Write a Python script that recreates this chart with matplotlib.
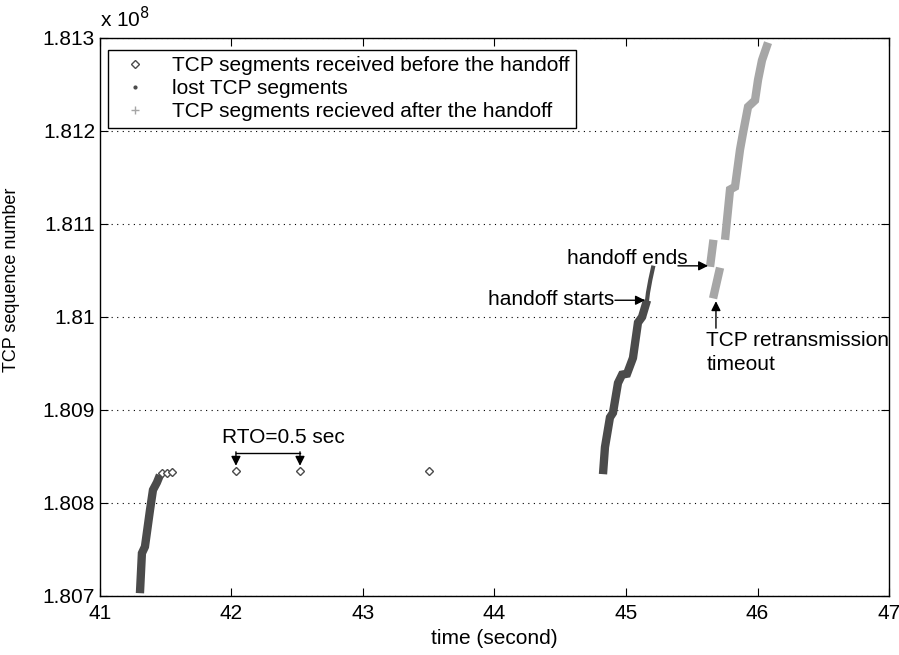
"""
TCP sequence numbers around a handoff: segments received before,
segments lost, and segments received after the handoff.
"""

import matplotlib.pyplot as plt
from matplotlib.lines import Line2D
from matplotlib.ticker import FuncFormatter

plt.rcParams.update({
    "font.family": ["Liberation Sans", "DejaVu Sans"],
    "font.size": 15,
    "axes.linewidth": 1.0,
})

DARK = "#4b4b4b"
LIGHT = "#a6a6a6"

# sequence numbers are in units of 1e8
# first run received before the handoff (dense, reads as a band)
run1_t = [41.304, 41.319, 41.342, 41.380, 41.403, 41.433, 41.456]
run1_seq = [1.80703, 1.80746, 1.80753, 1.80792, 1.80814, 1.80822, 1.80830]

# isolated segments received before the handoff
single_t = [41.47, 41.51, 41.55, 42.034, 42.521, 43.502]
single_seq = [1.80832, 1.80832, 1.80833, 1.80834, 1.80834, 1.80834]

# second run received before the handoff
run2_t = [44.825, 44.840, 44.878, 44.901, 44.939, 44.970, 45.008,
          45.053, 45.091, 45.122, 45.160]
run2_seq = [1.80831, 1.80860, 1.80892, 1.80897, 1.80929, 1.80938, 1.80939,
            1.80956, 1.80994, 1.81000, 1.81018]

# lost segments
lost_t = [45.160, 45.167, 45.185, 45.205]
lost_seq = [1.81018, 1.81026, 1.81040, 1.81053]

# received after the handoff
retx_t = [45.662, 45.715]
retx_seq = [1.81020, 1.81053]
after1_t = [45.639, 45.665]
after1_seq = [1.81054, 1.81083]
after2_t = [45.753, 45.791, 45.829, 45.867, 45.890, 45.928, 45.981,
            46.004, 46.034, 46.080]
after2_seq = [1.81083, 1.81137, 1.81140, 1.81180, 1.81198, 1.81226,
              1.81233, 1.81255, 1.81276, 1.81295]

fig = plt.figure(figsize=(8.99, 6.55), dpi=100)
ax = fig.add_axes([0.1112, 0.0901, 0.8777, 0.8519])

band = dict(linewidth=6, solid_capstyle="butt", solid_joinstyle="miter")
ax.plot(run1_t, run1_seq, color=DARK, **band)
ax.plot(run2_t, run2_seq, color=DARK, **band)
ax.plot(lost_t, lost_seq, color=DARK, linewidth=3)
for t, s in [(retx_t, retx_seq), (after1_t, after1_seq), (after2_t, after2_seq)]:
    ax.plot(t, s, color=LIGHT, **band)
ax.plot(single_t, single_seq, linestyle="none", marker="D", markersize=4.5,
        markerfacecolor="white", markeredgecolor=DARK, markeredgewidth=1)

# annotations
arrow = dict(arrowstyle="-|>", color="black", lw=1, mutation_scale=14,
             shrinkA=0, shrinkB=0)
for x in (single_t[3], single_t[4]):
    ax.annotate("", xy=(x, 1.80840), xytext=(x, 1.80855), arrowprops=arrow)
ax.plot([single_t[3], single_t[4]], [1.80854, 1.80854], color="black", lw=1)
ax.text(41.928, 1.80860, "RTO=0.5 sec", ha="left", va="bottom")

ax.annotate("", xy=(45.144, 1.81018), xytext=(44.916, 1.81018), arrowprops=arrow)
ax.text(44.91, 1.81019, "handoff starts", ha="right", va="center")

ax.annotate("", xy=(45.624, 1.81055), xytext=(45.395, 1.81055), arrowprops=arrow)
ax.text(45.47, 1.81053, "handoff ends", ha="right", va="bottom")

ax.annotate("", xy=(45.684, 1.81017), xytext=(45.684, 1.80988), arrowprops=arrow)
ax.text(45.612, 1.80985, "TCP retransmission\ntimeout", ha="left", va="top",
        linespacing=1.35)

# axes
ax.set_xlim(41, 47)
ax.set_ylim(1.807, 1.813)
ax.set_xticks(range(41, 48))
ax.set_yticks([1.807, 1.808, 1.809, 1.810, 1.811, 1.812, 1.813])
ax.yaxis.set_major_formatter(FuncFormatter(lambda v, p: f"{v:g}"))
ax.tick_params(direction="in", top=True, right=True, length=6, labelsize=15)
ax.tick_params(axis="x", pad=6)
ax.yaxis.grid(True, linestyle=(0, (1, 4)), color="black", linewidth=0.8)
ax.set_axisbelow(True)
ax.set_xlabel("time (second)", labelpad=4)
ax.set_ylabel("TCP sequence number", fontsize=13)
ax.yaxis.set_label_coords(-0.101, 0.566)
ax.text(0.0, 1.012, r"x 10$^{8}$", transform=ax.transAxes, ha="left",
        va="bottom", fontsize=15)

handles = [
    Line2D([], [], linestyle="none", marker="D", markersize=4.5,
           markerfacecolor="white", markeredgecolor=DARK),
    Line2D([], [], linestyle="none", marker=".", markersize=4, color=DARK),
    Line2D([], [], linestyle="none", marker="+", markersize=6, color=LIGHT),
]
labels = ["TCP segments received before the handoff",
          "lost TCP segments",
          "TCP segments recieved after the handoff"]
leg = ax.legend(handles, labels, loc="upper left", bbox_to_anchor=(0.010, 0.979),
                borderaxespad=0, fontsize=15, handlelength=2.0,
                handletextpad=0.8, labelspacing=0.2, borderpad=0.3,
                fancybox=False, framealpha=1)
leg.get_frame().set_edgecolor("black")
leg.get_frame().set_linewidth(1)

fig.savefig("out.png", dpi=100)
